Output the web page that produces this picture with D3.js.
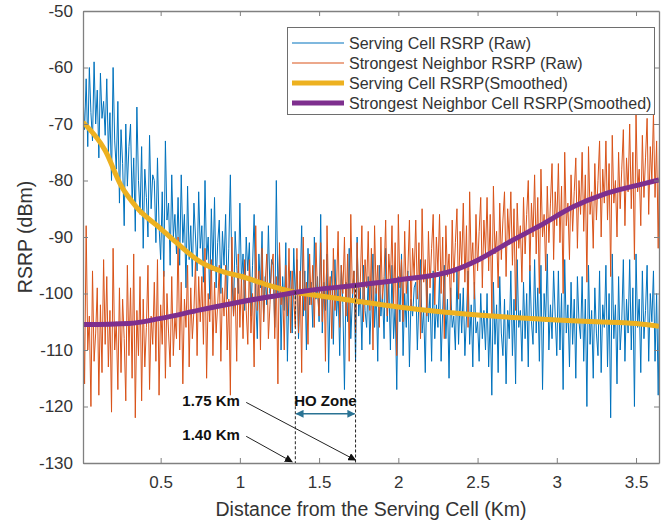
<!DOCTYPE html>
<html lang="en">
<head>
<meta charset="UTF-8">
<title>RSRP vs Distance</title>
<script src="https://cdn.jsdelivr.net/npm/d3@7"></script>
<style>
    body { margin: 0; background: #fff; }
    svg { font-family: "Liberation Sans", Arial, sans-serif; }
</style>
</head>
<body>
<div id="chart"></div>
<script>
// raw samples start at 0.01 km, one every 0.01 km (15 per row = 0.15 km)
const rawStart = 0.01, rawStep = 0.01

const servingRaw = [
    -65,-71,-62,-74,-60,-68,-73,-59,-70,-64,-76,-61,-69,-66,-72,
    -62,-75,-68,-80,-60,-73,-78,-66,-84,-71,-77,-88,-70,-81,-74,
    -70,-84,-76,-89,-67,-80,-86,-74,-92,-78,-83,-90,-72,-85,-79,
    -80,-91,-76,-88,-94,-82,-97,-73,-87,-84,-95,-79,-90,-86,-93,
    -83,-95,-79,-91,-86,-99,-81,-94,-88,-97,-84,-90,-96,-82,-92,
    -88,-98,-80,-94,-90,-101,-85,-96,-83,-99,-91,-87,-100,-89,-95,
    -86,-101,-92,-79,-97,-104,-89,-95,-100,-84,-98,-93,-103,-90,-96,
    -91,-104,-95,-86,-101,-108,-93,-99,-89,-105,-97,-102,-88,-100,-94,
    -95,-106,-80,-100,-93,-110,-97,-103,-91,-112,-99,-96,-107,-92,-101,
    -94,-108,-99,-88,-104,-96,-110,-92,-102,-98,-106,-90,-101,-97,-105,
    -86,-107,-98,-103,-93,-114,-100,-96,-109,-94,-104,-99,-111,-95,-102,
    -117,-98,-105,-92,-108,-101,-96,-112,-90,-104,-99,-110,-95,-103,-106,
    -97,-109,-101,-93,-106,-99,-112,-95,-104,-100,-108,-92,-105,-98,-110,
    -95,-108,-102,-117,-97,-105,-93,-111,-100,-106,-96,-113,-101,-104,-99,
    -98,-110,-101,-94,-107,-103,-114,-97,-105,-100,-112,-96,-108,-102,-106,
    -97,-112,-103,-95,-108,-101,-115,-99,-106,-104,-110,-96,-109,-100,-107,
    -99,-111,-104,-96,-109,-102,-113,-98,-107,-105,-112,-100,-108,-103,-110,
    -100,-113,-104,-118,-98,-109,-102,-114,-97,-107,-111,-101,-116,-103,-108,
    -96,-111,-101,-116,-94,-106,-103,-112,-98,-108,-100,-113,-95,-105,-109,
    -94,-107,-99,-112,-95,-117,-100,-105,-93,-110,-102,-108,-96,-104,-111,
    -96,-110,-100,-117,-94,-107,-102,-113,-98,-109,-101,-115,-97,-105,-108,
    -97,-112,-101,-120,-95,-109,-103,-115,-99,-107,-111,-96,-114,-102,-106,
    -95,-113,-100,-122,-93,-108,-102,-116,-97,-110,-105,-94,-112,-101,-107,
    -94,-110,-99,-120,-93,-106,-101,-114,-96,-108,-103,-95,-112,-100,-105,
    -96,-112,-100,-118,-95,-107,-102,-113,-98,-109,-104,-97,-111,-101,-106
]

const neighborRaw = [
    -100,-116,-88,-110,-104,-120,-96,-112,-107,-99,-118,-102,-114,-94,-109,
    -97,-113,-103,-121,-92,-110,-105,-117,-99,-114,-101,-108,-119,-95,-111,
    -99,-115,-93,-122,-103,-111,-97,-119,-101,-113,-106,-95,-117,-104,-109,
    -98,-112,-94,-118,-102,-109,-96,-115,-100,-107,-113,-97,-111,-104,-108,
    -90,-110,-98,-116,-101,-106,-95,-113,-99,-108,-103,-94,-111,-97,-105,
    -97,-109,-92,-115,-100,-105,-94,-111,-98,-107,-102,-95,-112,-99,-104,
    -95,-110,-101,-118,-90,-104,-99,-112,-93,-106,-97,-108,-94,-103,-109,
    -94,-107,-100,-113,-88,-103,-96,-110,-92,-105,-98,-93,-108,-102,-95,
    -93,-108,-97,-116,-91,-102,-99,-110,-95,-104,-92,-107,-96,-101,-106,
    -92,-107,-96,-114,-90,-103,-98,-109,-93,-102,-95,-106,-91,-100,-104,
    -91,-105,-94,-112,-88,-101,-97,-108,-92,-103,-99,-89,-106,-95,-100,
    -90,-104,-93,-112,-86,-100,-96,-107,-91,-102,-98,-88,-105,-94,-99,
    -89,-103,-92,-110,-88,-100,-95,-106,-90,-101,-97,-87,-104,-93,-98,
    -88,-102,-91,-111,-86,-99,-94,-105,-89,-100,-96,-87,-103,-92,-97,
    -87,-101,-91,-108,-85,-98,-94,-104,-89,-99,-92,-86,-102,-90,-96,
    -86,-100,-90,-108,-88,-97,-93,-103,-87,-98,-91,-85,-101,-89,-95,
    -84,-98,-88,-106,-82,-95,-91,-101,-86,-96,-89,-83,-99,-87,-93,
    -83,-96,-86,-104,-81,-93,-89,-99,-84,-94,-87,-82,-97,-85,-91,
    -82,-95,-85,-103,-84,-92,-88,-98,-83,-93,-86,-80,-96,-84,-90,
    -79,-93,-83,-100,-78,-90,-86,-96,-81,-91,-84,-77,-94,-82,-88,
    -77,-91,-81,-100,-75,-88,-84,-94,-79,-89,-82,-76,-92,-80,-86,
    -75,-89,-79,-98,-74,-86,-82,-92,-77,-87,-80,-73,-90,-78,-84,
    -73,-87,-77,-97,-72,-84,-80,-90,-75,-85,-78,-71,-88,-76,-82,
    -70,-85,-75,-94,-68,-82,-78,-88,-72,-83,-76,-69,-86,-74,-80,
    -68,-83,-73,-92,-69,-80,-76,-86,-71,-81,-74,-67,-84,-72,-78
]

const servSmoothX = [0.01,0.15,0.25,0.35,0.5,0.6,0.75,0.9,1.0,1.2,1.35,1.5,1.75,2.0,2.25,2.5,2.75,3.0,3.25,3.5,3.645]
const servSmoothY = [-69.7,-74.7,-80.9,-84.8,-88.5,-91,-94.4,-96.2,-96.9,-98.7,-99.8,-100.4,-101.4,-102.4,-103.2,-103.8,-104.3,-104.7,-105.0,-105.3,-105.8]

const neighSmoothX = [0.01,0.3,0.5,0.75,1.0,1.25,1.4,1.75,2.0,2.35,2.5,2.7,2.9,3.1,3.3,3.5,3.645]
const neighSmoothY = [-105.5,-105.3,-104.4,-102.9,-101.5,-100.3,-99.6,-98.5,-97.6,-95.9,-94.1,-90.9,-87.9,-84.7,-82.4,-80.9,-79.9]

const xTicks = [0.5,1,1.5,2,2.5,3,3.5]
const yTicks = [-130,-120,-110,-100,-90,-80,-70,-60,-50]

const legendNames = ["Serving Cell RSRP (Raw)","Strongest Neighbor RSRP (Raw)",
    "Serving Cell RSRP(Smoothed)","Strongest Neighbor Cell RSRP(Smoothed)"]
const colors = ["#0072BD","#D95319","#EDB120","#7E2F8E"]

// HO zone boundaries (km)
const hoStart = 1.35, hoEnd = 1.73

const W = 666, H = 523
const plot = {left: 83, right: 659, top: 11, bottom: 463}

const svg = d3.select("#chart").append("svg")
    .attr("width", W).attr("height", H)

const x = d3.scaleLinear().domain([0.01, 3.645]).range([plot.left, plot.right])
const y = d3.scaleLinear().domain([-130, -50]).range([plot.bottom, plot.top])

const defs = svg.append("defs")
defs.append("clipPath").attr("id","clip")
    .append("rect")
    .attr("x", plot.left).attr("y", plot.top)
    .attr("width", plot.right - plot.left).attr("height", plot.bottom - plot.top)
defs.append("marker").attr("id","tri").attr("viewBox","0 0 10 10")
    .attr("refX",9).attr("refY",5).attr("markerWidth",8).attr("markerHeight",8)
    .attr("markerUnits","userSpaceOnUse").attr("orient","auto")
    .append("path").attr("d","M0,0L10,5L0,10Z").attr("fill","#111")
defs.append("marker").attr("id","teal").attr("viewBox","0 0 10 10")
    .attr("refX",9).attr("refY",5).attr("markerWidth",8).attr("markerHeight",8)
    .attr("markerUnits","userSpaceOnUse").attr("orient","auto-start-reverse")
    .append("path").attr("d","M0,0L10,5L0,10Z").attr("fill","#2a7394")

const plotG = svg.append("g").attr("clip-path","url(#clip)")

const rawLine = d3.line()
    .x((d,i) => x(rawStart + i*rawStep))
    .y(d => y(d))

plotG.append("path").attr("d", rawLine(servingRaw))
    .attr("fill","none").attr("stroke",colors[0]).attr("stroke-width",1)
plotG.append("path").attr("d", rawLine(neighborRaw))
    .attr("fill","none").attr("stroke",colors[1]).attr("stroke-width",1)

const smoothLine = d3.line()
    .x(d => x(d[0])).y(d => y(d[1]))
    .curve(d3.curveMonotoneX)

plotG.append("path").attr("d", smoothLine(d3.zip(servSmoothX, servSmoothY)))
    .attr("fill","none").attr("stroke",colors[2]).attr("stroke-width",5)
plotG.append("path").attr("d", smoothLine(d3.zip(neighSmoothX, neighSmoothY)))
    .attr("fill","none").attr("stroke",colors[3]).attr("stroke-width",5)

// axes box with ticks on all four sides
const axisColor = "#808080"
const xAxis = svg.append("g").attr("transform",`translate(0,${plot.bottom})`)
    .call(d3.axisBottom(x).tickValues(xTicks).tickSizeInner(-5).tickSizeOuter(0).tickPadding(13).tickFormat(d3.format("")))
const xTop = svg.append("g").attr("transform",`translate(0,${plot.top})`)
    .call(d3.axisTop(x).tickValues(xTicks).tickSizeInner(-5).tickSizeOuter(0).tickFormat(""))
const yAxis = svg.append("g").attr("transform",`translate(${plot.left},0)`)
    .call(d3.axisLeft(y).tickValues(yTicks).tickSizeInner(-5).tickSizeOuter(0).tickPadding(10))
const yRight = svg.append("g").attr("transform",`translate(${plot.right},0)`)
    .call(d3.axisRight(y).tickValues(yTicks).tickSizeInner(-5).tickSizeOuter(0).tickFormat(""))
;[xAxis,xTop,yAxis,yRight].forEach(g => {
    g.selectAll(".domain").attr("stroke",axisColor).attr("stroke-width",1.3)
    g.selectAll(".tick line").attr("stroke",axisColor)
    g.selectAll(".tick text").attr("font-size",17).attr("fill","#333")
})
yAxis.selectAll(".tick text").text(d => "-" + Math.abs(d))

svg.append("text")
    .attr("x",(plot.left+plot.right)/2).attr("y",516)
    .attr("text-anchor","middle").attr("font-size",19.5).attr("fill","#333")
    .text("Distance from the Serving Cell (Km)")
svg.append("text")
    .attr("transform",`translate(32,${(plot.top+plot.bottom)/2}) rotate(-90)`)
    .attr("text-anchor","middle").attr("font-size",19.5).attr("fill","#333")
    .text("RSRP (dBm)")

// HO zone annotation
const ann = svg.append("g")
;[[hoStart,-99.6],[hoEnd,-98.4]].forEach(p => {
    ann.append("line")
        .attr("x1",x(p[0])).attr("x2",x(p[0]))
        .attr("y1",y(p[1])).attr("y2",y(-130))
        .attr("stroke","#222").attr("stroke-width",1).attr("stroke-dasharray","3,2")
})
ann.append("line")
    .attr("x1",x(hoStart)+1).attr("x2",x(hoEnd)-1)
    .attr("y1",y(-121.3)).attr("y2",y(-121.3))
    .attr("stroke","#2a7394").attr("stroke-width",1.5)
    .attr("marker-start","url(#teal)").attr("marker-end","url(#teal)")
ann.append("text")
    .attr("x",x((hoStart+hoEnd)/2)).attr("y",y(-119.1)+5)
    .attr("text-anchor","middle").attr("font-size",15).attr("font-weight","bold").attr("fill","#111")
    .text("HO Zone")

const kmLabels = [
    {text:"1.75 Km", ly:-119.1, tx:hoEnd, ty:-129.5},
    {text:"1.40 Km", ly:-125.1, tx:hoStart-0.02, ty:-129.8}
]
kmLabels.forEach(k => {
    ann.append("text")
        .attr("x",x(1.0)).attr("y",y(k.ly)+5)
        .attr("text-anchor","end").attr("font-size",15).attr("font-weight","bold").attr("fill","#111")
        .text(k.text)
    ann.append("line")
        .attr("x1",x(1.04)).attr("y1",y(k.ly)+1)
        .attr("x2",x(k.tx)).attr("y2",y(k.ty))
        .attr("stroke","#222").attr("stroke-width",1)
        .attr("marker-end","url(#tri)")
})

// legend
const legend = svg.append("g")
legend.append("rect")
    .attr("x",287.5).attr("y",27.5).attr("width",367).attr("height",87)
    .attr("fill","#fff").attr("stroke","#6e6e6e").attr("stroke-width",1)
legendNames.forEach((name,i) => {
    const ly = 43 + i*20
    legend.append("line")
        .attr("x1",292).attr("x2",344).attr("y1",ly).attr("y2",ly)
        .attr("stroke",colors[i]).attr("stroke-width", i < 2 ? 1.2 : 5)
    legend.append("text")
        .attr("x",349).attr("y",ly+5.5)
        .attr("font-size",16).attr("fill","#333")
        .text(name)
})
</script>
</body>
</html>
